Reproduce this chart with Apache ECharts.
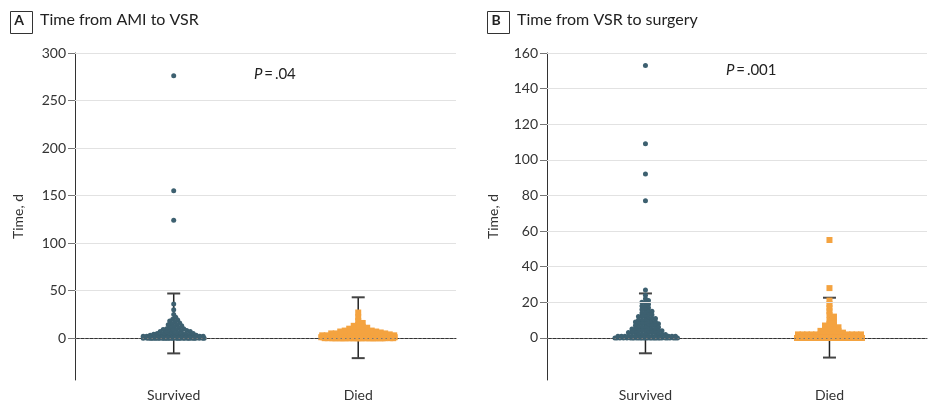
<!DOCTYPE html>
<html><head><meta charset="utf-8">
<script src="https://cdn.jsdelivr.net/npm/echarts@6/dist/echarts.min.js"></script>
<style>html,body{margin:0;padding:0;background:#fff}#c{width:932px;height:413px}</style>
</head><body><div id="c"></div>
<script>
// ---------- data ----------
const categories = ['Survived', 'Died'];
const panelTitles = ['Time from AMI to VSR', 'Time from VSR to surgery'];
const panelLetters = ['A', 'B'];
const pValues = ['.04', '.001'];
const yAxisName = 'Time, d';

// Panel A: time from AMI to VSR (days)
const survivedAMI = [276,155,124,36,30,25,22,20,19,18,17,16,15,14,14,13,12,11,11,10,10,
  9,9,8,8,8,7,7,7,6,6,5,5,5,5,4,4,4,4,3,3,3,3,3,
  2,2,2,2,2,2,2,2,2,2,2,2,2,2,1,1,1,1,1,1,1,1,1,1,1,1,1,1,1,1,1,1,1,1,
  0,0,0,0,0,0,0,0,0,0,0,0,0,0,0,0,0,0,0,0,0,0,0,0,0,0,0,0,0,0,0,0];
const diedAMI = [27,22,18,16,14,13,12,11,10,10,9,8,8,8,7,7,7,6,6,6,5,5,5,5,4,4,4,4,3,3,3,3,3,3,
  2,2,2,2,2,2,2,2,2,2,2,2,1,1,1,1,1,1,1,1,1,1,1,1,1,1,1,1,1,1,
  0,0,0,0,0,0,0,0,0,0,0,0,0,0,0,0,0,0,0,0,0,0,0,0,0,0,0,0,0,0,0,0,0,0,0,0];
// Panel B: time from VSR to surgery (days)
const survivedSurgery = [153,109,92,77,27,24,22,21,20,20,19,18,18,17,16,16,15,15,14,14,
  13,13,12,12,12,11,11,11,10,10,10,9,9,9,9,8,8,8,8,7,7,7,7,6,6,6,6,5,5,5,5,5,
  4,4,4,4,4,3,3,3,3,3,3,2,2,2,2,2,2,1,1,1,1,1,1,1,1,1,1,1,1,
  0,0,0,0,0,0,0,0,0,0,0,0,0,0,0,0,0,0,0,0,0,0,0,0,0,0,0,0,0];
const diedSurgery = [55,28,21,19,17,15,13,12,10,9,8,7,7,6,6,5,5,4,4,4,3,3,3,
  2,2,2,2,2,2,2,2,2,2,2,2,1,1,1,1,1,1,1,1,1,1,1,1,1,1,1,1,1,1,1,1,1,1,
  0,0,0,0,0,0,0,0,0,0,0,0,0,0,0,0,0,0,0,0,0,0,0,0,0,0,0,0,0,0,0,0,0,0,0,0,0,0,0,0,0,0,0];

// error bars [Survived, Died]
const errLowA = [-16, -21], errHighA = [47, 43];
const errLowB = [-8.6, -11], errHighB = [25, 22.6];

// y tick labels
const ticksA = [0, 50, 100, 150, 200, 250, 300];
const ticksB = [0, 20, 40, 60, 80, 100, 120, 140, 160];

// ---------- chart ----------
const FONT = 'Lato';
const TEAL = '#3d6070', ORANGE = '#f4a340', AX = '#333';
const chart = echarts.init(document.getElementById('c'), null, {renderer: 'canvas'});

const grids = [
  {left: 75, top: 53, width: 381, height: 327},
  {left: 547, top: 53, width: 380, height: 327}
];
const yRanges = [[-44, 300], [-23.6, 160]];
const yTicks = [ticksA, ticksB];

function xAxis(i) {
  return {
    type: 'value', gridIndex: i, min: 0.465, max: 2.53,
    axisLine: {show: true, lineStyle: {color: AX, width: 1}},
    axisTick: {show: true, customValues: [1, 2], length: 4, lineStyle: {color: AX}},
    axisLabel: {show: true, customValues: [1, 2], margin: 8, fontSize: 14, color: '#333', fontFamily: FONT,
      formatter: v => categories[Math.round(v) - 1] || ''},
    splitLine: {show: false}
  };
}
function yAxis(i) {
  return {
    type: 'value', gridIndex: i, min: yRanges[i][0], max: yRanges[i][1],
    name: yAxisName, nameLocation: 'middle', nameGap: i === 0 ? 50 : 47,
    nameTextStyle: {fontSize: 14, color: '#333', fontFamily: FONT},
    axisLine: {show: true, lineStyle: {color: AX, width: 1}},
    axisTick: {show: true, customValues: yTicks[i], length: 7, lineStyle: {color: '#777'}},
    axisLabel: {show: true, customValues: yTicks[i], margin: 9, fontSize: 14, color: '#333', fontFamily: FONT},
    splitLine: {show: false}
  };
}
function gridLinesSeries(i) {
  return {
    type: 'line', xAxisIndex: i, yAxisIndex: i, data: [], silent: true, z: 1,
    markLine: {
      silent: true, symbol: ['none', 'none'], label: {show: false}, animation: false,
      data: yTicks[i].map(t => ({
        yAxis: t,
        lineStyle: t === 0 ? {color: '#777', type: [1.5, 3], width: 1} : {color: '#e2e2e2', type: 'solid', width: 1}
      }))
    }
  };
}
function errSeries(i, lows, highs) {
  return {
    type: 'custom', xAxisIndex: i, yAxisIndex: i, z: 2, silent: true,
    data: lows.map((l, k) => [k + 1, l, highs[k]]),
    renderItem: (params, api) => {
      const lo = api.coord([api.value(0), api.value(1)]);
      const hi = api.coord([api.value(0), api.value(2)]);
      const w = 6.5;
      return {type: 'group', children: [
        {type: 'line', shape: {x1: lo[0], y1: lo[1], x2: hi[0], y2: hi[1]}, style: {stroke: '#222', lineWidth: 1.5}},
        {type: 'line', shape: {x1: lo[0] - w, y1: lo[1], x2: lo[0] + w, y2: lo[1]}, style: {stroke: '#444', lineWidth: 2}},
        {type: 'line', shape: {x1: hi[0] - w, y1: hi[1], x2: hi[0] + w, y2: hi[1]}, style: {stroke: '#444', lineWidth: 2}}
      ]};
    }
  };
}

const groups = [
  {gi: 0, cat: 1, values: survivedAMI, color: TEAL, symbol: 'circle', size: 5, maxW: 66},
  {gi: 0, cat: 2, values: diedAMI, color: ORANGE, symbol: 'rect', size: 6, maxW: 80},
  {gi: 1, cat: 1, values: survivedSurgery, color: TEAL, symbol: 'circle', size: 5, maxW: 69},
  {gi: 1, cat: 2, values: diedSurgery, color: ORANGE, symbol: 'rect', size: 6, maxW: 71}
];

function scatterSeries(g, data) {
  return {
    type: 'scatter', xAxisIndex: g.gi, yAxisIndex: g.gi, z: 3, silent: true,
    symbol: g.symbol, symbolSize: g.size, itemStyle: {color: g.color, opacity: 1},
    data: data
  };
}

const graphics = [];
const boxX = [8, 485], titleX = [40, 517], pX = [254, 726], pY = [74, 70];
for (let i = 0; i < 2; i++) {
  graphics.push({type: 'rect', left: boxX[i], top: 9, shape: {width: 22, height: 22},
    style: {fill: 'none', stroke: '#333', lineWidth: 1}});
  graphics.push({type: 'text', x: boxX[i] + 11, y: 20, style: {text: panelLetters[i], fontSize: 14, fontWeight: 'bold',
    fill: '#222', fontFamily: FONT, align: 'center', verticalAlign: 'middle'}});
  graphics.push({type: 'text', x: titleX[i], y: 20, style: {text: panelTitles[i], fontSize: 16,
    fill: '#222', fontFamily: FONT, align: 'left', verticalAlign: 'middle'}});
  graphics.push({type: 'text', x: pX[i], y: pY[i], style: {
    text: '{i|P}{n|\u2009=\u2009' + pValues[i] + '}', align: 'left', verticalAlign: 'middle',
    rich: {i: {fontStyle: 'italic', fontSize: 15, fill: '#222', fontFamily: FONT},
           n: {fontSize: 15, fill: '#222', fontFamily: FONT}}}});
}

chart.setOption({
  animation: false,
  backgroundColor: '#fff',
  textStyle: {fontFamily: FONT},
  grid: grids,
  xAxis: [xAxis(0), xAxis(1)],
  yAxis: [yAxis(0), yAxis(1)],
  graphic: graphics,
  series: [
    gridLinesSeries(0), gridLinesSeries(1),
    errSeries(0, errLowA, errHighA), errSeries(1, errLowB, errHighB),
    ...groups.map(g => scatterSeries(g, []))
  ]
});

// beeswarm layout in pixel space (via the axes), converted back to data x
function swarm(g) {
  const toPx = (x, y) => chart.convertToPixel({gridIndex: g.gi}, [x, y]);
  const cx = toPx(g.cat, 0)[0];
  const pts = g.values.map(v => ({v: v, py: toPx(g.cat, v)[1]})).sort((a, b) => b.v - a.v);
  const s = g.size, square = g.symbol === 'rect';
  const half = g.maxW / 2 - s / 2;
  const cands = [];
  for (let x = 0; x <= half + 1e-6; x += 0.5) { cands.push(x); if (x > 0) cands.push(-x); }
  const placed = [];
  pts.forEach(p => {
    let chosen = null, bestX = 0, bestScore = -1;
    for (const x of cands) {
      let minD = Infinity;
      for (const q of placed) {
        const dx = Math.abs(x - q.x), dy = Math.abs(p.py - q.py);
        const m = square ? Math.max(dx / (s * 0.7), dy / (s * 0.5)) : Math.sqrt(dx * dx + dy * dy) / (s * 0.65);
        if (m < minD) minD = m;
        if (minD < 1 && minD <= bestScore) break;
      }
      if (minD >= 1) { chosen = x; break; }
      if (minD > bestScore) { bestScore = minD; bestX = x; }
    }
    p.x = chosen !== null ? chosen : bestX;
    placed.push(p);
  });
  return placed.map(p => [chart.convertFromPixel({gridIndex: g.gi}, [cx + p.x, p.py])[0], p.v]);
}
chart.setOption({series: [
  {}, {}, {}, {},
  ...groups.map(g => ({data: swarm(g)}))
]});
</script></body></html>
